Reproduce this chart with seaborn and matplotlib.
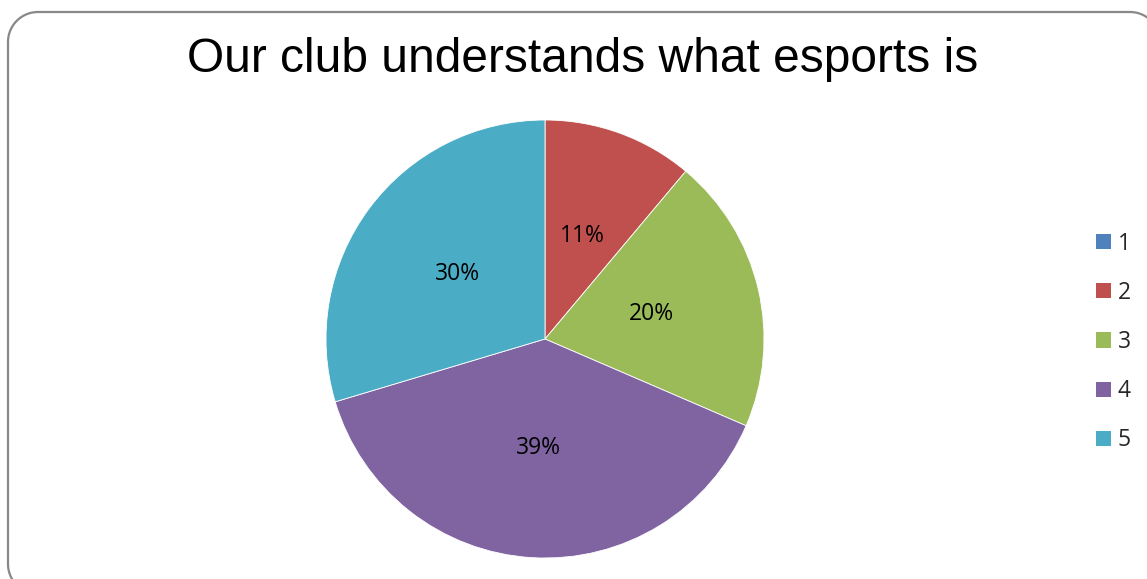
import matplotlib
matplotlib.use("Agg")
import matplotlib.pyplot as plt
from matplotlib.patches import Patch
import numpy as np
import seaborn as sns

sns.set_theme(style="white")

# Survey responses (rating 1-5) and their counts
categories = ["1", "2", "3", "4", "5"]
counts = [0, 6, 11, 21, 16]
colors = ["#4F81BD", "#C0504D", "#9BBB59", "#8064A2", "#4BACC6"]
title = "Our club understands what esports is"

W, H = 1147, 579
fig = plt.figure(figsize=(W / 100, H / 100), dpi=100)
fig.patch.set_facecolor("white")

# Rounded slide frame, traced in pixel coordinates (y measured downward)
bg = fig.add_axes([0, 0, 1, 1], zorder=-1)
bg.set_xlim(0, W)
bg.set_ylim(H, 0)
bg.axis("off")

def rounded_rect(x0, y0, x1, y1, r, n=24):
    pts = []
    corners = [(x1 - r, y0 + r, -90, 0), (x1 - r, y1 - r, 0, 90),
               (x0 + r, y1 - r, 90, 180), (x0 + r, y0 + r, 180, 270)]
    for ccx, ccy, a0, a1 in corners:
        t = np.radians(np.linspace(a0, a1, n))
        pts.extend(zip(ccx + r * np.cos(t), ccy + r * np.sin(t)))
    pts.append(pts[0])
    return np.array(pts)

frame = rounded_rect(8, 12, 1160, 594, 30)
bg.plot(frame[:, 0], frame[:, 1], color="#888888", linewidth=1.6,
        solid_joinstyle="round")

R = 219
cx, cy = 545, 339
ax = fig.add_axes([(cx - R) / W, (H - cy - R) / H, 2 * R / W, 2 * R / H])
ax.set_aspect("equal")

def pct_label(p):
    return f"{p:.0f}%" if p > 0.5 else ""

wedges, texts, autotexts = ax.pie(
    counts, colors=colors, startangle=90, counterclock=False,
    autopct=pct_label, pctdistance=0.5, radius=1.0,
    wedgeprops=dict(edgecolor="white", linewidth=0.6),
    textprops=dict(fontsize=16.5, family=["Open Sans", "DejaVu Sans"], color="black"))
ax.set_xlim(-1, 1)
ax.set_ylim(-1, 1)

fig.text(583 / W, 1 - 60 / H, title, ha="center", va="center",
         fontsize=34.5, family=["Liberation Sans", "DejaVu Sans"], color="black")

handles = [Patch(facecolor=c, edgecolor="none") for c in colors]
leg = fig.legend(handles, categories, loc="center left",
                 bbox_to_anchor=(1096 / W, 1 - 342 / H), frameon=False,
                 prop=dict(family=["Open Sans", "DejaVu Sans"], size=16.5),
                 handlelength=0.65, handleheight=0.65, handletextpad=0.3,
                 labelspacing=1.1, borderpad=0, borderaxespad=0)

fig.savefig("out.png", dpi=100, facecolor="white")
